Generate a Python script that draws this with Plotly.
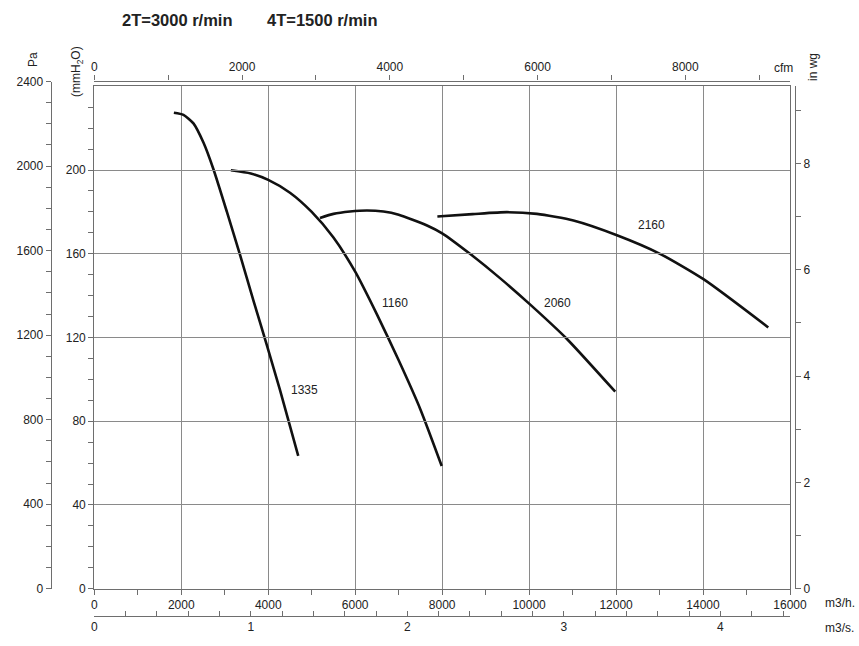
import plotly.graph_objects as go

# ---------------- data ----------------
# flow in m3/h, static pressure in Pa
q_1335 = [1830, 2050, 2280, 2510, 2740, 3050, 3350, 3660, 3970, 4270, 4690]
p_1335 = [2230, 2220, 2180, 2090, 1965, 1765, 1565, 1350, 1140, 931, 622]

q_1160 = [3140, 3600, 4000, 4500, 5000, 5500, 6000, 6500, 7000, 7500, 7990]
p_1160 = [1960, 1945, 1915, 1855, 1765, 1645, 1485, 1285, 1070, 840, 575]

q_2060 = [5190, 5500, 5880, 6270, 6650, 7000, 7640, 8000, 8640, 9330, 10020, 10870, 11980]
p_2060 = [1737, 1756, 1767, 1772, 1767, 1752, 1703, 1665, 1569, 1455, 1332, 1170, 923]

q_2160 = [7890, 8700, 9490, 10180, 11020, 12020, 13010, 14010, 15500]
p_2160 = [1744, 1755, 1764, 1756, 1725, 1656, 1569, 1450, 1224]

curve_names = ["1335", "1160", "2060", "2160"]
label_q = [4823, 6916, 10658, 12820]
label_p = [930, 1339, 1339, 1702]

title_parts = ["2T=3000 r/min", "4T=1500 r/min"]

mmh2o_ticks = [0, 40, 80, 120, 160, 200]
pa_ticks = [0, 400, 800, 1200, 1600, 2000, 2400]
inwg_ticks = [0, 2, 4, 6, 8]
m3h_ticks = [0, 2000, 4000, 6000, 8000, 10000, 12000, 14000, 16000]
m3s_ticks = [0, 1, 2, 3, 4]
cfm_ticks = [0, 2000, 4000, 6000, 8000]

# unit conversions
PA_PER_MMH2O = 9.80665
PA_PER_INWG = 249.089
M3H_PER_CFM = 1.69901
M3H_PER_M3S = 3600.0

Q_MAX = 16000
MMH2O_MAX = 240
P_MAX = MMH2O_MAX * PA_PER_MMH2O

# ---------------- layout geometry ----------------
W, H = 859, 646
ML, MR, MT, MB = 40, 40, 70, 15
PW, PH = W - ML - MR, H - MT - MB


def px(x):
    return (x - ML) / PW


def py(y):
    return (H - MB - y) / PH


X_DOM = [px(94.3), px(790)]
Y_DOM = [py(594.3), py(86.5)]

FONT = "Liberation Sans, Arial, sans-serif"
TXT = "#222222"
AX = "#6e6e6e"
GRID = "#8a8a8a"
tickfont = dict(family=FONT, size=12, color=TXT)

fig = go.Figure()

series = [(q_1335, p_1335), (q_1160, p_1160), (q_2060, p_2060), (q_2160, p_2160)]
for (q, p), name in zip(series, curve_names):
    fig.add_trace(go.Scatter(
        x=q, y=p, mode="lines", name=name,
        line=dict(color="#111111", width=2.6, shape="spline", smoothing=0.6),
        showlegend=False, hoverinfo="skip",
    ))

# invisible traces that carry the auxiliary axes
fig.add_trace(go.Scatter(x=[None], y=[None], xaxis="x2", yaxis="y", showlegend=False, hoverinfo="skip"))
fig.add_trace(go.Scatter(x=[None], y=[None], xaxis="x3", yaxis="y", showlegend=False, hoverinfo="skip"))
fig.add_trace(go.Scatter(x=[None], y=[None], xaxis="x4", yaxis="y2", showlegend=False, hoverinfo="skip"))
fig.add_trace(go.Scatter(x=[None], y=[None], xaxis="x", yaxis="y3", showlegend=False, hoverinfo="skip"))

mm_minor = [v * PA_PER_MMH2O for v in range(10, MMH2O_MAX, 10) if v % 40 != 0]

fig.update_layout(
    width=W, height=H, autosize=False,
    margin=dict(l=ML, r=MR, t=MT, b=MB),
    paper_bgcolor="white", plot_bgcolor="rgba(0,0,0,0)",
    font=dict(family=FONT, size=12, color=TXT),
    xaxis=dict(
        domain=X_DOM, anchor="y", range=[0, Q_MAX],
        tickmode="array", tickvals=m3h_ticks, ticktext=[str(v) for v in m3h_ticks],
        ticks="outside", ticklen=5, tickcolor=AX, tickwidth=1,
        minor=dict(dtick=1000, tick0=0, ticks="outside", ticklen=5, tickcolor=AX, showgrid=False),
        showline=True, linecolor=AX, linewidth=1.2, mirror=True,
        showgrid=True, gridcolor=GRID, gridwidth=1.1, zeroline=False,
        tickfont=tickfont, layer="below traces",
    ),
    xaxis2=dict(
        domain=X_DOM, anchor="free", position=py(621.7), side="bottom",
        range=[0, Q_MAX / M3H_PER_M3S],
        tickmode="array", tickvals=m3s_ticks, ticktext=[str(v) for v in m3s_ticks],
        ticks="inside", ticklen=5, tickcolor=AX,
        minor=dict(dtick=0.2, tick0=0, ticks="inside", ticklen=5, tickcolor=AX, showgrid=False),
        showline=True, linecolor=AX, linewidth=1.2,
        showgrid=False, zeroline=False, tickfont=tickfont,
    ),
    xaxis3=dict(
        domain=X_DOM, anchor="free", position=py(80.7), side="top",
        range=[0, Q_MAX / M3H_PER_CFM],
        tickmode="array", tickvals=cfm_ticks, ticktext=[str(v) for v in cfm_ticks],
        ticks="outside", ticklen=5, tickcolor=AX,
        minor=dict(dtick=1000, tick0=0, ticks="outside", ticklen=5, tickcolor=AX, showgrid=False),
        showline=True, linecolor=AX, linewidth=1.2,
        showgrid=False, zeroline=False, tickfont=tickfont,
    ),
    xaxis4=dict(domain=X_DOM, anchor="y2", range=[0, Q_MAX], visible=False),
    yaxis=dict(
        domain=Y_DOM, anchor="x", range=[0, P_MAX],
        tickmode="array", tickvals=[v * PA_PER_MMH2O for v in mmh2o_ticks],
        ticktext=[str(v) for v in mmh2o_ticks],
        ticks="outside", ticklen=5, tickcolor=AX,
        minor=dict(tickmode="array", tickvals=mm_minor, ticks="outside", ticklen=5,
                   tickcolor=AX, showgrid=False),
        showline=True, linecolor=AX, linewidth=1.2, mirror=True,
        showgrid=True, gridcolor=GRID, gridwidth=1.1, zeroline=False,
        tickfont=tickfont, layer="below traces",
    ),
    yaxis2=dict(
        domain=[py(594.3), py(81.7)], anchor="free", position=px(50.7), side="left",
        range=[0, 2400],
        tickmode="array", tickvals=pa_ticks, ticktext=[str(v) for v in pa_ticks],
        ticks="outside", ticklen=5, tickcolor=AX,
        minor=dict(dtick=100, tick0=0, ticks="outside", ticklen=5, tickcolor=AX, showgrid=False),
        showline=True, linecolor=AX, linewidth=1.2,
        showgrid=False, zeroline=False, tickfont=tickfont,
    ),
    yaxis3=dict(
        overlaying="y", anchor="free", position=px(795), side="right",
        range=[0, P_MAX / PA_PER_INWG],
        tickmode="array", tickvals=inwg_ticks, ticktext=[str(v) for v in inwg_ticks],
        ticks="outside", ticklen=5, tickcolor=AX,
        minor=dict(dtick=1, tick0=0, ticks="outside", ticklen=5, tickcolor=AX, showgrid=False),
        showline=True, linecolor=AX, linewidth=1.2,
        showgrid=False, zeroline=False, tickfont=tickfont,
    ),
)

ann = []
for name, q, p in zip(curve_names, label_q, label_p):
    ann.append(dict(x=q, y=p, xref="x", yref="y", text=name, showarrow=False,
                    xanchor="center", yanchor="middle",
                    font=dict(family=FONT, size=12, color=TXT)))

title_font = dict(family=FONT, size=16.5, color=TXT)
ann.append(dict(x=px(120), y=py(19), xref="paper", yref="paper", text="<b>%s</b>" % title_parts[0],
                xanchor="left", yanchor="middle", showarrow=False, font=title_font))
ann.append(dict(x=px(265), y=py(19), xref="paper", yref="paper", text="<b>%s</b>" % title_parts[1],
                xanchor="left", yanchor="middle", showarrow=False, font=title_font))

unit_font = dict(family=FONT, size=12, color=TXT)


def paper_text(x, y, text, angle=0, xanchor="center"):
    return dict(x=px(x), y=py(y), xref="paper", yref="paper", text=text, textangle=angle,
                xanchor=xanchor, yanchor="middle", showarrow=False, font=unit_font)


ann += [
    paper_text(783, 68, "cfm"),
    paper_text(813, 67, "in wg", -90),
    paper_text(33, 60, "Pa", -90),
    paper_text(77, 72, "(mmH<sub>2</sub>O)", -90),
    paper_text(823, 609, "m3/h.", xanchor="left"),
    paper_text(823, 634, "m3/s.", xanchor="left"),
]
fig.update_layout(annotations=ann)

fig.write_html("out.html", config={"displayModeBar": False},
               post_script="document.body.style.margin='0px';")
